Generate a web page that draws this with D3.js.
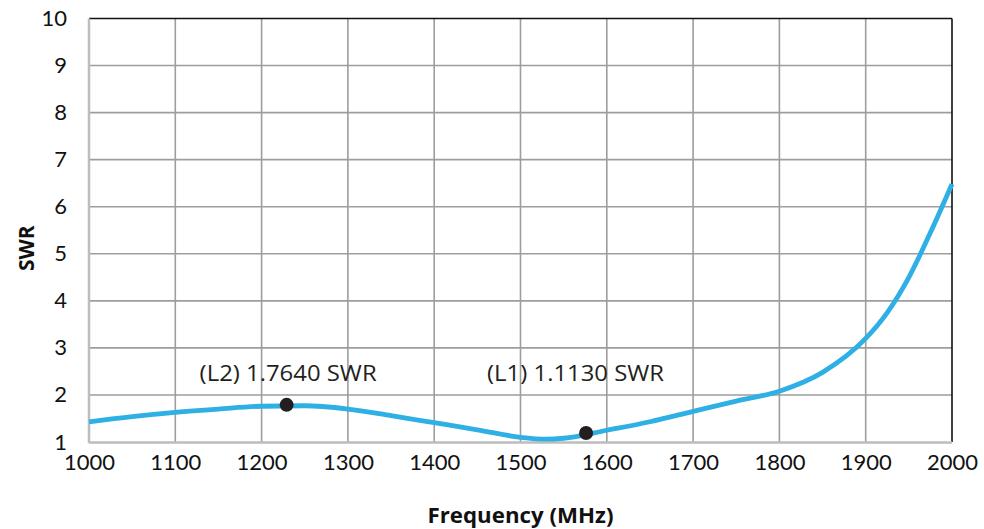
<!DOCTYPE html>
<html><head><meta charset="utf-8">
<script src="https://cdn.jsdelivr.net/npm/d3@7"></script>
<style>body{margin:0;background:#fff;} svg{display:block;}</style>
</head><body>
<script>
const freqs = [1000,1050,1100,1150,1200,1250,1300,1350,1400,1450,1500,1530,1550,1600,1650,1700,1750,1800,1850,1900,1925,1950,1975,2000];
const swr   = [1.43,1.54,1.63,1.70,1.76,1.77,1.70,1.56,1.41,1.26,1.10,1.06,1.08,1.25,1.43,1.65,1.87,2.08,2.48,3.20,3.75,4.50,5.45,6.48];
const markerFreqs = [1229,1576];
const markerSwr = [1.79,1.19];
const markerLabels = ["(L2) 1.7640 SWR","(L1) 1.1130 SWR"];
const xTicks = [1000,1100,1200,1300,1400,1500,1600,1700,1800,1900,2000];
const yTicks = [1,2,3,4,5,6,7,8,9,10];

const W=984,H=529;
const m={left:89,right:32,top:18.5,bottom:87};
const svg=d3.select("body").append("svg").attr("width",W).attr("height",H);
const x=d3.scaleLinear().domain([1000,2000]).range([m.left,W-m.right]);
const y=d3.scaleLinear().domain([1,10]).range([H-m.bottom,m.top]);
const font="Lato, 'Open Sans', sans-serif";

// grid
svg.append("g").selectAll("line").data(xTicks.slice(1,-1)).join("line")
  .attr("x1",d=>x(d)).attr("x2",d=>x(d)).attr("y1",y(10)).attr("y2",y(1))
  .attr("stroke","#9d9d9d").attr("stroke-width",1.6);
svg.append("g").selectAll("line").data(yTicks.slice(1,-1)).join("line")
  .attr("x1",x(1000)).attr("x2",x(2000)).attr("y1",d=>y(d)).attr("y2",d=>y(d))
  .attr("stroke","#9d9d9d").attr("stroke-width",1.6);
// borders
svg.append("line").attr("x1",x(1000)).attr("x2",x(2000)).attr("y1",y(10)).attr("y2",y(10)).attr("stroke","#111").attr("stroke-width",1.6);
svg.append("line").attr("x1",x(2000)).attr("x2",x(2000)).attr("y1",y(10)).attr("y2",y(1)).attr("stroke","#111").attr("stroke-width",1.6);
svg.append("line").attr("x1",x(1000)).attr("x2",x(1000)).attr("y1",y(10)).attr("y2",y(1)+1).attr("stroke","#bdbdbd").attr("stroke-width",2.5);
svg.append("line").attr("x1",x(1000)).attr("x2",x(2000)).attr("y1",y(1)+0.5).attr("y2",y(1)+0.5).attr("stroke","#bdbdbd").attr("stroke-width",2.5);

// axes labels
const xAxis=d3.axisBottom(x).tickValues(xTicks).tickSize(0).tickPadding(12).tickFormat(d3.format("d"));
const gx=svg.append("g").attr("transform",`translate(0,${y(1)})`).call(xAxis);
gx.select(".domain").remove();
gx.selectAll("text").attr("font-family",font).attr("font-size",22).attr("fill","#111");
const yAxis=d3.axisLeft(y).tickValues(yTicks).tickSize(0).tickPadding(22).tickFormat(d3.format("d"));
const gy=svg.append("g").attr("transform",`translate(${x(1000)},0)`).call(yAxis);
gy.select(".domain").remove();
gy.selectAll("text").attr("font-family",font).attr("font-size",22).attr("fill","#111");

svg.append("text").attr("x",(x(1000)+x(2000))/2).attr("y",523).attr("text-anchor","middle")
  .attr("font-family","'Open Sans', sans-serif").attr("font-weight","bold").attr("font-size",21).attr("fill","#111")
  .attr("textLength",186).attr("lengthAdjust","spacingAndGlyphs").text("Frequency (MHz)");
svg.append("text").attr("transform",`translate(34,${(y(1)+y(10))/2+18}) rotate(-90)`).attr("text-anchor","middle")
  .attr("font-family","'Open Sans', sans-serif").attr("font-weight","bold").attr("font-size",21).attr("fill","#111").text("SWR");

// curve
const data=freqs.map((f,i)=>({f,v:swr[i]}));
svg.append("path").datum(data).attr("fill","none").attr("stroke","#2eb0e4").attr("stroke-width",4.8)
  .attr("d",d3.line().x(d=>x(d.f)).y(d=>y(d.v)).curve(d3.curveMonotoneX));

// markers
const labelOffsets=[-87,-99];
const mk=markerFreqs.map((f,i)=>({f,v:markerSwr[i],t:markerLabels[i],o:labelOffsets[i]}));
svg.append("g").selectAll("circle").data(mk).join("circle")
  .attr("cx",d=>x(d.f)).attr("cy",d=>y(d.v)).attr("r",7).attr("fill","#231f20");
svg.append("g").selectAll("text").data(mk).join("text")
  .attr("x",d=>x(d.f)+d.o).attr("y",381).attr("font-family","'Open Sans', sans-serif").attr("font-weight",400)
  .attr("font-size",21).attr("fill","#231f20").attr("textLength",177).attr("lengthAdjust","spacingAndGlyphs").text(d=>d.t);
</script>
</body></html>
